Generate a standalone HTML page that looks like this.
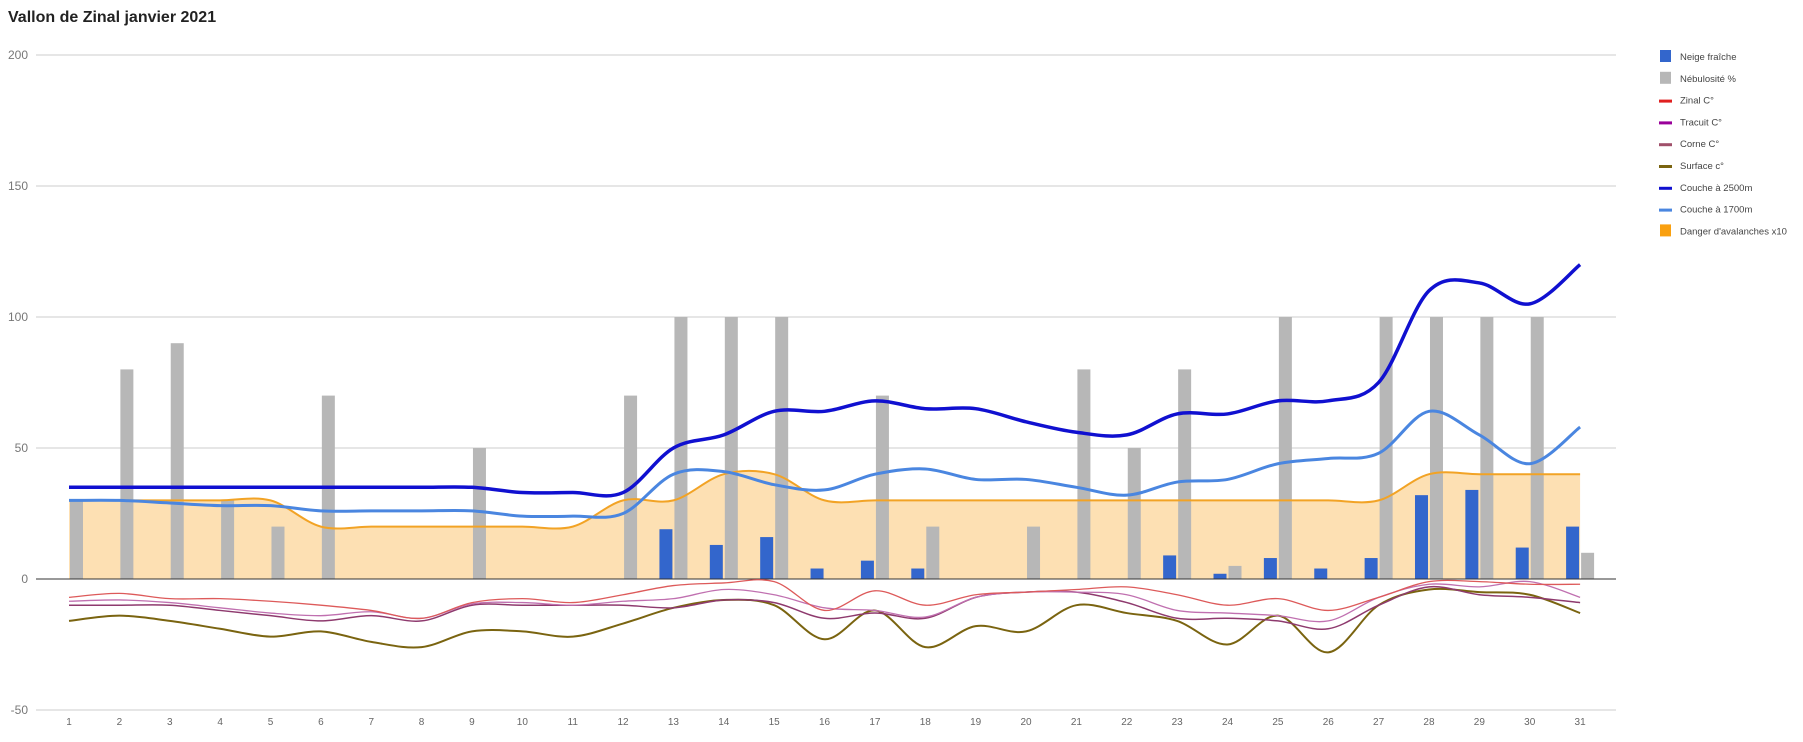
<!DOCTYPE html><html><head><meta charset="utf-8"><style>
body{margin:0;background:#fff;font-family:"Liberation Sans",sans-serif}
</style></head><body>
<svg id="s" width="1803" height="742" xmlns="http://www.w3.org/2000/svg" style="display:block"></svg>
<script>
const S=document.getElementById('s');
const X0=69,DX=50.37,Y0=579,K=2.62;
const xx=d=>X0+(d-1)*DX, yy=v=>Y0-v*K;
let h='';
h+='<text x="8" y="22" font-size="16" font-weight="bold" fill="#222">Vallon de Zinal janvier 2021</text>';
[200,150,100,50,-50].forEach(v=>{h+=`<line x1="36" x2="1616" y1="${yy(v)}" y2="${yy(v)}" stroke="#ccc"/>`;h+=`<text x="28" y="${yy(v)+4}" font-size="12" fill="#777" text-anchor="end">${v}</text>`});
h+=`<text x="28" y="${Y0+4}" font-size="12" fill="#777" text-anchor="end">0</text>`;
for(let d=1;d<=31;d++)h+=`<text x="${xx(d)}" y="725" font-size="10" fill="#666" text-anchor="middle">${d}</text>`;
function path(a){let p=a.map((v,i)=>[xx(i+1),yy(v)]);let s=`M${p[0][0]},${p[0][1]}`;
for(let i=0;i<p.length-1;i++){const p0=p[i-1]||p[i],p1=p[i],p2=p[i+1],p3=p[i+2]||p2;
s+=` C${p1[0]+(p2[0]-p0[0])/6},${p1[1]+(p2[1]-p0[1])/6} ${p2[0]-(p3[0]-p1[0])/6},${p2[1]-(p3[1]-p1[1])/6} ${p2[0]},${p2[1]}`}return s}
const dng=[30,30,30,30,30,20,20,20,20,20,20,30,30,40,40,30,30,30,30,30,30,30,30,30,30,30,30,40,40,40,40];
const dp=path(dng);
h+=`<path d="${dp} L${xx(31)},${Y0} L${xx(1)},${Y0} Z" fill="#fde0b3"/>`;
const neb=[30,80,90,30,20,70,0,0,50,0,0,70,100,100,100,0,70,20,0,20,80,50,80,5,100,0,100,100,100,100,10];
const nei=[0,0,0,0,0,0,0,0,0,0,0,0,19,13,16,4,7,4,0,0,0,0,9,2,8,4,8,32,34,12,20];
neb.forEach((v,i)=>{if(v)h+=`<rect x="${xx(i+1)+1}" y="${yy(v)}" width="13" height="${v*K}" fill="#b7b7b7"/>`});
nei.forEach((v,i)=>{if(v)h+=`<rect x="${xx(i+1)-14}" y="${yy(v)}" width="13" height="${v*K}" fill="#3366cc"/>`});
h+=`<path d="${dp}" fill="none" stroke="#f2a325" stroke-width="2"/>`;
h+=`<line x1="36" x2="1616" y1="${Y0}" y2="${Y0}" stroke="#333"/>`;
const L=(a,c,w)=>h+=`<path d="${path(a)}" fill="none" stroke="${c}" stroke-width="${w}"/>`;
L([-16,-14,-16,-19,-22,-20,-24,-26,-20,-20,-22,-17,-11,-8,-10,-23,-12,-26,-18,-20,-10,-13,-16,-25,-14,-28,-10,-4,-5,-6,-13],'#7a6410',2);
L([-10,-10,-10,-12,-14,-16,-14,-16,-10,-10,-10,-10,-11,-8,-9,-15,-13,-15,-7,-5,-5,-9,-15,-15,-16,-19,-10,-3,-6,-7,-9],'#8e3a6e',1.5);
L([-8.5,-8,-9,-11,-13,-14,-12.5,-15,-9.5,-9,-10,-8.5,-7.5,-4,-6,-11,-12,-14.5,-7,-5,-5,-6,-12,-13,-14,-16,-7,-2,-3,-1,-7],'#c070b0',1.3);
L([-7,-5.5,-7.5,-7.5,-8.5,-10,-12,-15,-9,-7.5,-9,-6,-2.5,-1.5,-1,-12,-4.5,-10,-6,-5,-4,-3,-6,-10,-7.5,-12,-7,-1,-1,-2,-2],'#dd5a5a',1.3);
L([30,30,29,28,28,26,26,26,26,24,24,25,40,41,36,34,40,42,38,38,35,32,37,38,44,46,48,64,55,44,58],'#4a86e0',3);
L([35,35,35,35,35,35,35,35,35,33,33,33,50,55,64,64,68,65,65,60,56,55,63,63,68,68,75,110,113,105,120],'#1010d0',3.5);
const leg=[['Neige fraîche','#3366cc',1],['Nébulosité %','#b7b7b7',1],['Zinal C°','#e02020',0],['Tracuit C°','#990099',0],['Corne C°','#a0506a',0],['Surface c°','#7a6410',0],['Couche à 2500m','#1010d0',0],['Couche à 1700m','#4a86e0',0],["Danger d'avalanches x10",'#f9a010',1]];
leg.forEach((l,i)=>{const y=57+i*21.8;
h+=l[2]?`<rect x="1660" y="${y-7}" width="11" height="12" fill="${l[1]}"/>`:`<rect x="1659" y="${y-1}" width="13" height="3" fill="${l[1]}"/>`;
h+=`<text x="1680" y="${y+3}" font-size="9.5" fill="#444">${l[0]}</text>`});
S.innerHTML=h;
</script></body></html>
